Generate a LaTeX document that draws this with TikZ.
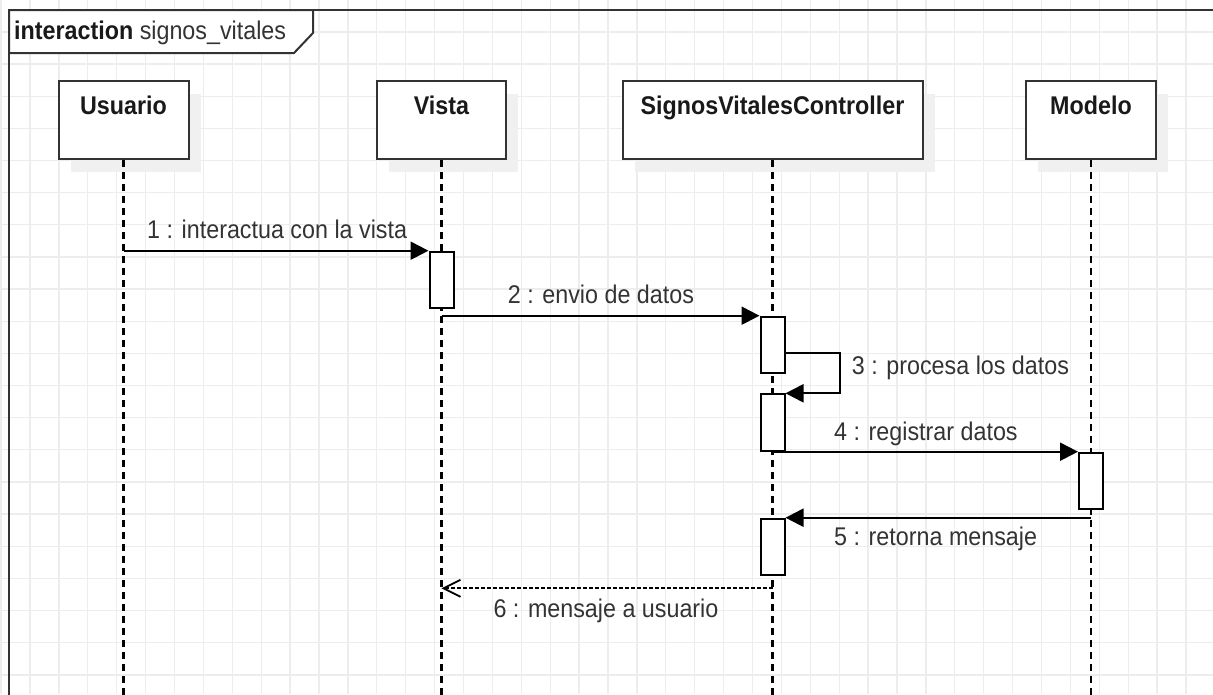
\documentclass[tikz,border=0pt]{standalone}
\usepackage{fontspec}
\setmainfont[FakeStretch=0.91]{Liberation Sans}
\usetikzlibrary{arrows.meta,shadows}
\definecolor{gridc}{HTML}{EDEDED}
\definecolor{linec}{HTML}{333333}
\definecolor{textc}{HTML}{333333}
\definecolor{shadc}{HTML}{F0F0F0}
\begin{document}
\begin{tikzpicture}[x=1pt,y=-1pt,
  fnt/.style={font=\fontsize{25.6}{30}\selectfont},
  gridline/.style={draw=gridc, line width=1.3pt},
  framec/.style={draw=linec, line width=2pt},
  head/.style={draw=linec, line width=2pt, fill=white, minimum width=130pt,
    minimum height=78pt, inner sep=0pt, anchor=north,
    drop shadow={shadow xshift=12pt, shadow yshift=-13pt, fill=shadc, opacity=1}},
  headtext/.style={fnt, text=black!90, anchor=base, inner sep=0pt},
  lifeline/.style={draw=black, line width=2.2pt, dash pattern=on 7pt off 5pt},
  actbox/.style={draw=black, line width=2pt, fill=white, minimum width=24pt,
    inner sep=0pt, anchor=north},
  msg/.style={draw=black, line width=2.2pt, -{Triangle[length=18pt,width=18pt]}},
  reply/.style={draw=black, line width=2pt, dash pattern=on 3.5pt off 2.5pt,
    -{Straight Barb[length=17pt,width=17pt,line width=1.8pt]}},
  lbl/.style={fnt, text=textc, anchor=base west, inner sep=0pt}
]
\useasboundingbox (0,0) rectangle (1213,694);
% grid
\foreach \k in {0,...,41}{\draw[gridline] ({1.1+28.9*\k},0) -- ({1.1+28.9*\k},694);}
\foreach \k in {0,...,21}{\draw[gridline] (0,{32.15*\k-0.3}) -- (1213,{32.15*\k-0.3});}
% frame
\draw[framec] (1216,10) -- (9,10) -- (9,697);
\draw[framec, fill=white] (9,10) -- (313,10) -- (313,33) -- (294,53) -- (9,53) -- cycle;
\node[fnt, anchor=base west, inner sep=0pt, text=black!90] (title) at (14,39.3)
  {\bfseries interaction\mdseries\ \textcolor{textc}{signos\_vitales}};
% heads
\node[head] (usuario) at (123.5,80) {};
\node[head, minimum width=129pt] (vista) at (441.5,80) {};
\node[head, minimum width=300pt] (ctrl) at (772.5,80) {};
\node[head] (modelo) at (1091,80) {};
\node[headtext] (usuarioT) at ([yshift=-34pt]usuario.north) {\bfseries Usuario};
\node[headtext] (vistaT) at ([yshift=-34pt]vista.north) {\bfseries Vista};
\node[headtext] (ctrlT) at ([yshift=-34pt]ctrl.north) {\bfseries SignosVitalesController};
\node[headtext] (modeloT) at ([yshift=-34pt]modelo.north) {\bfseries Modelo};
% lifelines
\coordinate (usuarioE) at (usuario.south |- 0,700);
\coordinate (vistaE) at (vista.south |- 0,700);
\coordinate (ctrlE) at (ctrl.south |- 0,700);
\coordinate (modeloE) at (modelo.south |- 0,700);
\draw[lifeline] (usuario.south) -- (usuarioE);
\draw[lifeline] (vista.south) -- (vistaE);
\draw[lifeline] (ctrl.south) -- (ctrlE);
\draw[lifeline] (modelo.south) -- (modeloE);
% activations
\node[actbox, minimum height=56.6pt] (a1) at (vista.south |- 0,250.7) {};
\node[actbox, minimum height=56pt] (a2) at (ctrl.south |- 0,315.7) {};
\node[actbox, minimum height=56.7pt] (a3) at (ctrl.south |- 0,393.3) {};
\node[actbox, minimum height=56.6pt] (a4) at (modelo.south |- 0,451.7) {};
\node[actbox, minimum height=56.6pt] (a5) at (ctrl.south |- 0,517.7) {};
% message start points
\coordinate (m1) at (usuario.south |- a1.north);
\coordinate (m2) at (vista.south |- a2.north);
\coordinate (m3) at (a2.east |- 0,353.3);
\coordinate (m4) at (ctrl.south |- a4.north);
\coordinate (m5) at (modelo.south |- a5.north);
\coordinate (m6s) at (ctrl.south |- 0,588.3);
\coordinate (m6e) at (vista.south |- 0,588.3);
% messages
\draw[msg] (m1) -- (a1.north west);
\draw[msg] (m2) -- (a2.north west);
\draw[msg] (m3) -- ++(54.3,0) |- (a3.north east);
\draw[msg] (m4) -- (a4.north west);
\draw[msg] (m5) -- (a5.north east);
\draw[reply] (m6s) -- (m6e);
% labels
\node[lbl] (l1) at (147,238.8) {1 : interactua con la vista};
\node[lbl] (l2) at (507.7,303.3) {2 : envio de datos};
\node[lbl] (l3) at (851.7,374.3) {3 : procesa los datos};
\node[lbl] (l4) at (834,440) {4 : registrar datos};
\node[lbl] (l5) at (834,545.7) {5 : retorna mensaje};
\node[lbl] (l6) at (493.3,617.3) {6 : mensaje a usuario};
\end{tikzpicture}
\end{document}
